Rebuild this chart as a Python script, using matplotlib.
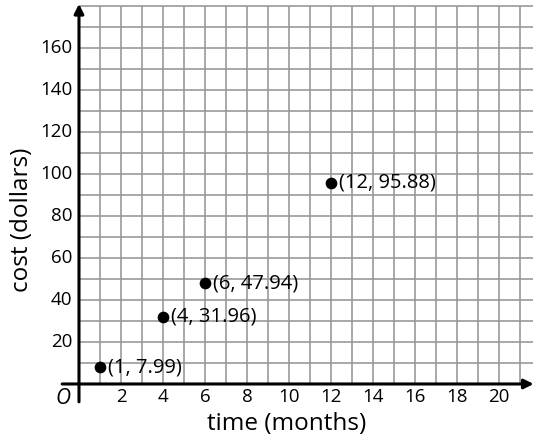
import matplotlib.pyplot as plt

plt.rcParams['font.family'] = ['Open Sans', 'DejaVu Sans']

# Data
months = [1, 4, 6, 12]
costs = [7.99, 31.96, 47.94, 95.88]
point_labels = ['(1, 7.99)', '(4, 31.96)', '(6, 47.94)', '(12, 95.88)']
x_ticks = [2, 4, 6, 8, 10, 12, 14, 16, 18, 20]
y_ticks = [20, 40, 60, 80, 100, 120, 140, 160]

fig = plt.figure(figsize=(5.33, 4.38), dpi=100)
ax = fig.add_axes([0.1088, 0.0658, 0.8904, 0.9301])
ax.set_xlim(-1, 21.6)
ax.set_ylim(-12, 182)
ax.axis('off')

grid_color = '#999999'
# grid
ax.vlines(range(1, 22), 0, 180, color=grid_color, lw=1.2, zorder=1)
ax.hlines(range(10, 190, 10), 0, 21.6, color=grid_color, lw=1.2, zorder=1)

# axes with arrows
arrow = dict(arrowstyle='-|>', color='black', lw=2.2, mutation_scale=14,
             shrinkA=0, shrinkB=0)
ax.annotate('', xy=(21.65, 0), xytext=(-0.8, 0), arrowprops=arrow,
            annotation_clip=False, zorder=3)
ax.annotate('', xy=(0, 181), xytext=(0, -8.5), arrowprops=arrow,
            annotation_clip=False, zorder=3)

# tick labels
for t in x_ticks:
    ax.text(t, -6.2, str(t), ha='center', va='center', fontsize=13.5)
for t in y_ticks:
    ax.text(-0.33, t, str(t), ha='right', va='center', fontsize=13.5)
ax.text(-0.76, -6.7, 'O', ha='center', va='center', fontsize=15, style='italic')

# points
ax.scatter(months, costs, s=55, color='black', zorder=4)
for x, y, lab in zip(months, costs, point_labels):
    ax.text(x + 0.38, y, lab, ha='left', va='center', fontsize=14.5, zorder=4)

fig.text(287 / 533, 1 - 424 / 438, 'time (months)', ha='center', va='center', fontsize=17.5)
fig.text(22 / 533, 1 - 220 / 438, 'cost (dollars)', ha='center', va='center',
         fontsize=17.5, rotation=90)

fig.savefig('out.png', dpi=100, facecolor='white')
